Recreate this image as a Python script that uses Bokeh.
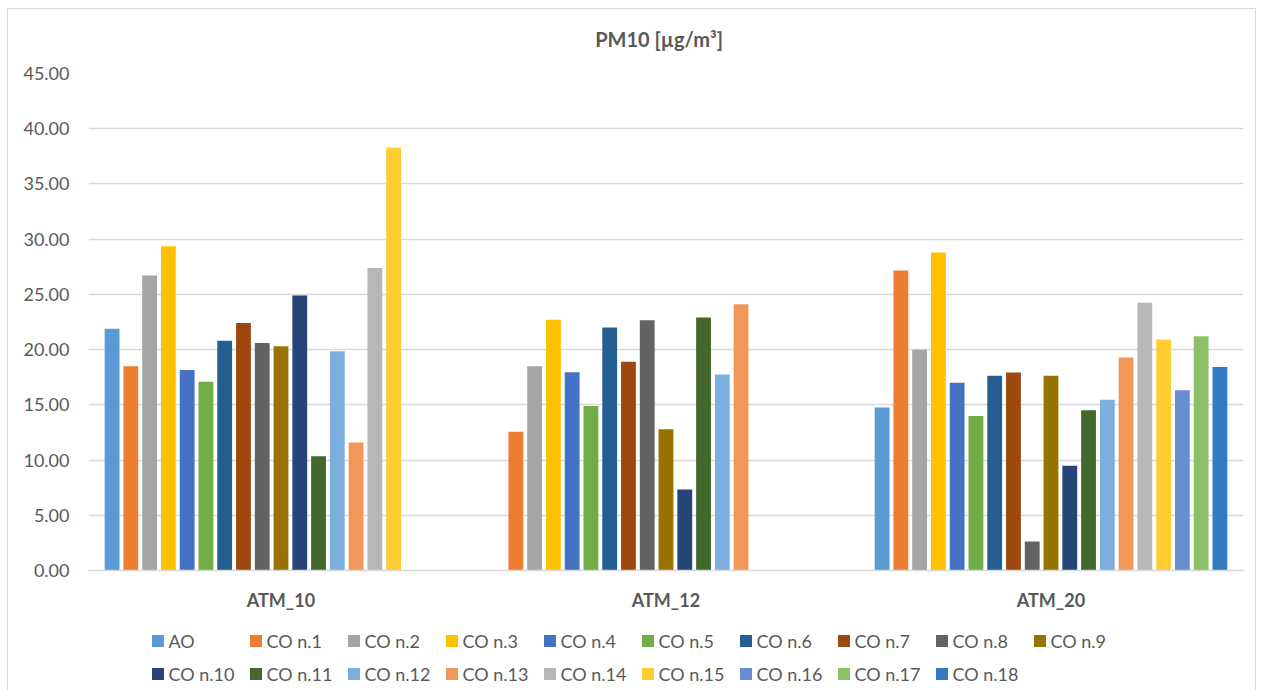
import numpy as np
from bokeh.plotting import figure
from bokeh.layouts import column
from bokeh.models import (ColumnDataSource, FactorRange, Range1d, Legend, LegendItem, Label,
                          NumeralTickFormatter, SingleIntervalTicker)
from bokeh.transform import dodge
from bokeh.embed import file_html
from bokeh.resources import INLINE

# Monitoring stations (x categories)
stations = ["ATM_10", "ATM_12", "ATM_20"]

# Sampling points (one bar series each)
series = ["AO", "CO n.1", "CO n.2", "CO n.3", "CO n.4", "CO n.5", "CO n.6", "CO n.7",
          "CO n.8", "CO n.9", "CO n.10", "CO n.11", "CO n.12", "CO n.13", "CO n.14",
          "CO n.15", "CO n.16", "CO n.17", "CO n.18"]

# PM10 concentration [µg/m³] per station, in series order (None = not sampled)
atm_10 = [21.90, 18.50, 26.70, 29.35, 18.15, 17.10, 20.80, 22.40, 20.60, 20.30,
          24.90, 10.35, 19.85, 11.60, 27.40, 38.30, None, None, None]
atm_12 = [None, 12.56, 18.50, 22.70, 17.96, 14.90, 22.00, 18.90, 22.65, 12.80,
          7.34, 22.90, 17.75, 24.10, None, None, None, None, None]
atm_20 = [14.76, 27.17, 19.99, 28.80, 17.00, 13.98, 17.64, 17.93, 2.63, 17.64,
          9.48, 14.52, 15.46, 19.29, 24.25, 20.92, 16.33, 21.20, 18.42]

colors = ["#5B9BD5", "#ED7D31", "#A5A5A5", "#FFC000", "#4472C4", "#70AD47", "#255E91",
          "#9E480E", "#636363", "#997300", "#264478", "#43682B", "#7CAFDD", "#F1975A",
          "#B7B7B7", "#FFCD33", "#698ED0", "#8CC168", "#327DC2"]

FONT = "Lato"
TEXT = "#595959"
GRID = "#D9D9D9"
W = 1247


def strip(height):
    """Blank, axis-less figure used for the title and legend bands."""
    f = figure(width=W, height=height, output_backend="svg", toolbar_location=None,
               x_axis_type=None, y_axis_type=None, x_range=Range1d(0, 1),
               y_range=Range1d(0, height), min_border=0)
    f.outline_line_color = None
    f.grid.grid_line_color = None
    return f


# ---- title band ----
head = strip(44)
head.add_layout(Label(x=0.494, y=15, text="PM10 [µg/m³]", text_align="center",
                      text_baseline="middle", text_font=FONT, text_font_size="20px",
                      text_font_style="bold", text_color=TEXT))

# ---- main bar chart ----
p = figure(x_range=FactorRange(*stations), y_range=Range1d(0, 45),
           width=W, height=571, output_backend="svg", toolbar_location=None,
           min_border_left=80, min_border_right=12, min_border_top=20, min_border_bottom=54)
p.outline_line_color = None
p.background_fill_color = "white"

slot = 0.04875
bar_w = 0.0385
stack_cols = [atm_10, atm_12, atm_20]

for i, col in enumerate(colors):
    vals = np.array([np.nan if s[i] is None else s[i] for s in stack_cols], dtype=float)
    src = ColumnDataSource(dict(station=stations, value=vals))
    p.vbar(x=dodge("station", (i - 9) * slot, range=p.x_range), top="value",
           width=bar_w, source=src, fill_color=col, line_color=None)

# y axis
p.yaxis.ticker = SingleIntervalTicker(interval=5)
p.yaxis.formatter = NumeralTickFormatter(format="0.00")
p.yaxis.axis_line_color = None
p.yaxis.major_tick_line_color = None
p.yaxis.minor_tick_line_color = None
p.yaxis.major_label_text_font = FONT
p.yaxis.major_label_text_font_size = "18px"
p.yaxis.major_label_text_color = TEXT
p.yaxis.major_label_standoff = 13

# x axis
p.xaxis.axis_line_color = GRID
p.xaxis.axis_line_width = 1.5
p.xaxis.major_tick_line_color = None
p.xaxis.minor_tick_line_color = None
p.xaxis.major_label_text_font = FONT
p.xaxis.major_label_text_font_size = "18px"
p.xaxis.major_label_text_font_style = "bold"
p.xaxis.major_label_text_color = TEXT
p.xaxis.major_label_standoff = 12

p.xgrid.grid_line_color = None
p.ygrid.grid_line_color = GRID
p.ygrid.grid_line_width = 1.5

# ---- legend band ----
lg = strip(66)
items = []
for name, col in zip(series, colors):
    # zero-height swatch source; only its legend entry is visible
    r = lg.vbar(x=[0.5], top=[0], bottom=[0], width=0.01, fill_color=col, line_color=None)
    items.append(LegendItem(label=name, renderers=[r]))

legend = Legend(items=items, orientation="horizontal", ncols=10, location=(61.5, 4),
                glyph_width=15, glyph_height=15, label_standoff=4, label_width=71,
                label_height=25, spacing=8, padding=0, margin=0,
                border_line_color=None, background_fill_alpha=0,
                label_text_font=FONT, label_text_font_size="18px", label_text_color=TEXT)
lg.add_layout(legend)

layout = column(head, p, lg, spacing=0)
layout.styles = {"margin-left": "7px", "margin-top": "8px", "border": "1px solid #D9D9D9"}

open("out.html", "w").write(file_html(layout, INLINE))
